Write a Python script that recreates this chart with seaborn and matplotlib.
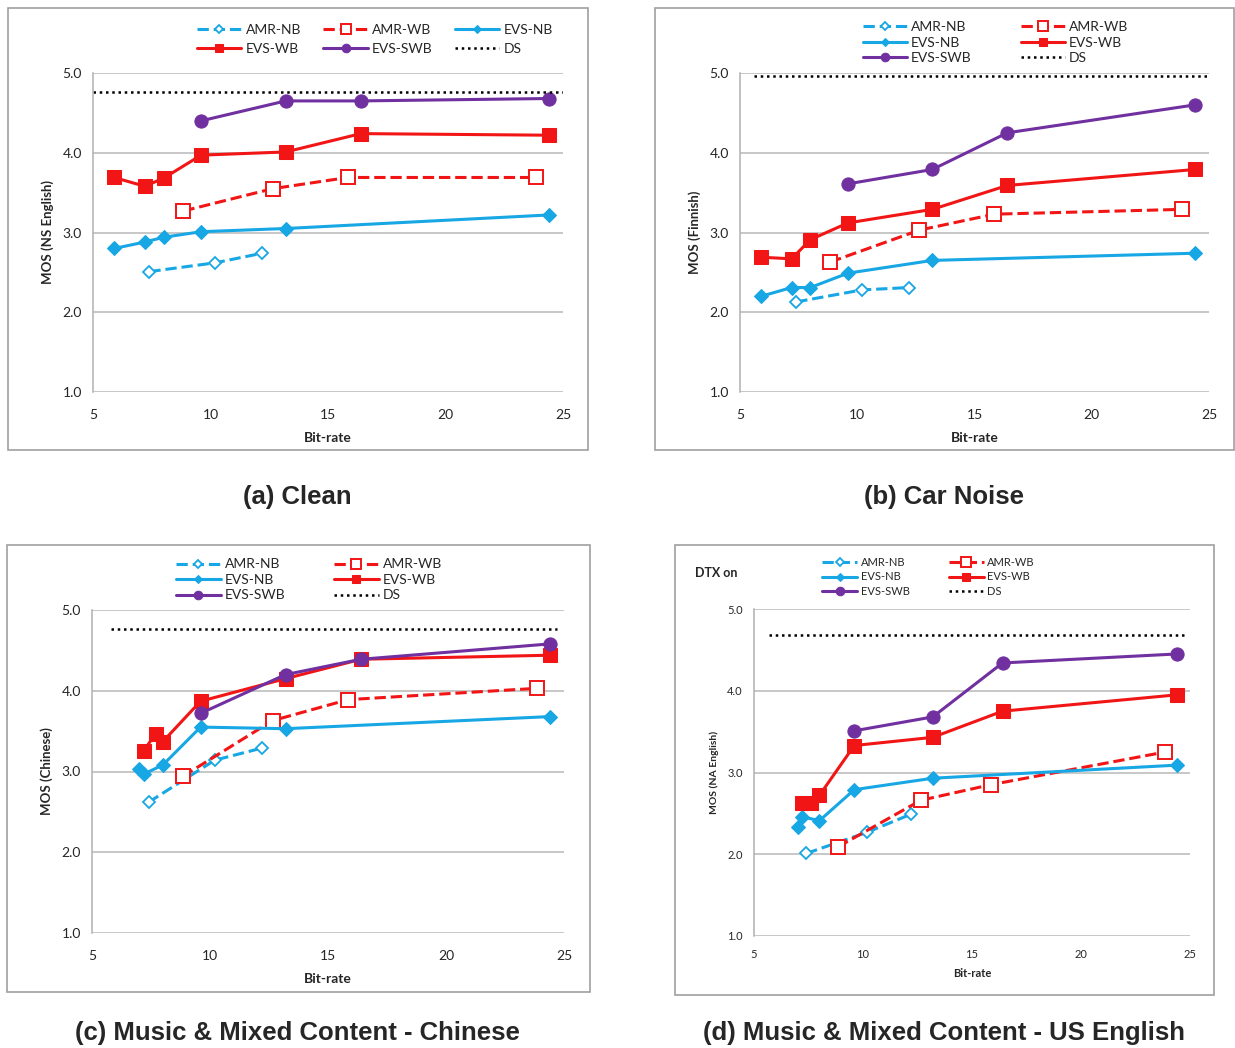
import matplotlib
matplotlib.use("Agg")
import matplotlib.pyplot as plt
import seaborn as sns
from matplotlib.patches import Rectangle
from matplotlib.ticker import FormatStrFormatter

# Bit-rates (kbps)
amr_nb_rate = [7.4, 10.2, 12.2]
amr_wb_rate = [8.85, 12.65, 15.85, 23.85]
evs_nb_rate = [5.9, 7.2, 8.0, 9.6, 13.2, 24.4]
evs_wb_rate = [5.9, 7.2, 8.0, 9.6, 13.2, 16.4, 24.4]
evs_swb_rate = [9.6, 13.2, 16.4, 24.4]
evs_nb_rate_c = [7.0, 7.2, 8.0, 9.6, 13.2, 24.4]
evs_wb_rate_c = [7.2, 7.7, 8.0, 9.6, 13.2, 16.4, 24.4]
evs_nb_rate_d = [7.0, 7.2, 8.0, 9.6, 13.2, 24.4]
evs_wb_rate_d = [7.2, 7.6, 8.0, 9.6, 13.2, 16.4, 24.4]

# (a) Clean
a_amr_nb = [2.51, 2.62, 2.74]
a_amr_wb = [3.27, 3.55, 3.69, 3.69]
a_evs_nb = [2.80, 2.88, 2.94, 3.01, 3.05, 3.22]
a_evs_wb = [3.69, 3.58, 3.68, 3.97, 4.01, 4.24, 4.22]
a_evs_swb = [4.40, 4.65, 4.65, 4.68]
a_ds = 4.76

# (b) Car Noise
b_amr_nb = [2.13, 2.28, 2.31]
b_amr_wb = [2.63, 3.03, 3.23, 3.29]
b_evs_nb = [2.20, 2.31, 2.31, 2.49, 2.65, 2.74]
b_evs_wb = [2.69, 2.67, 2.91, 3.12, 3.29, 3.59, 3.79]
b_evs_swb = [3.61, 3.79, 4.25, 4.60]
b_ds = 4.96

# (c) Music & Mixed - Chinese
c_amr_nb = [2.62, 3.14, 3.29]
c_amr_wb = [2.94, 3.63, 3.89, 4.03]
c_evs_nb = [3.03, 2.97, 3.08, 3.55, 3.53, 3.68]
c_evs_wb = [3.26, 3.47, 3.37, 3.87, 4.15, 4.39, 4.44]
c_evs_swb = [3.72, 4.20, 4.39, 4.58]
c_ds = 4.76

# (d) Music & Mixed - US English
d_amr_nb = [2.01, 2.27, 2.49]
d_amr_wb = [2.09, 2.66, 2.85, 3.25]
d_evs_nb = [2.33, 2.46, 2.41, 2.79, 2.93, 3.09]
d_evs_wb = [2.63, 2.63, 2.72, 3.33, 3.43, 3.75, 3.95]
d_evs_swb = [3.51, 3.68, 4.34, 4.45]
d_ds = 4.68

ds_span = {"a": [5.0, 25.0], "b": [5.6, 25.0], "c": [5.8, 24.7], "d": [5.7, 24.8]}

CYAN = "#17a7e4"
RED = "#f21515"
PURPLE = "#7030a0"

sns.set_style("white")
plt.rcParams["font.family"] = ["Lato", "DejaVu Sans"]

W, H = 1235, 1048
fig = plt.figure(figsize=(W / 100, H / 100), dpi=100)


def fx(px):
    return px / W


def fy(py):
    return 1 - py / H


def draw_panel(rect, data, ds_y, ds_x, ylabel, fs, ncol, order, leg_anchor, colsp, lsp):
    ax = fig.add_axes(rect)
    amr_nb, amr_wb, evs_nb, evs_wb, evs_swb, rates = data
    styles = {
        "AMR-NB": dict(x=amr_nb_rate, y=amr_nb, color=CYAN, linestyle="--", marker="D",
                       markersize=6.5, markerfacecolor="white", markeredgecolor=CYAN,
                       markeredgewidth=1.3),
        "AMR-WB": dict(x=amr_wb_rate, y=amr_wb, color=RED, linestyle="--", marker="s",
                       markersize=10, markerfacecolor="white", markeredgecolor=RED,
                       markeredgewidth=1.4),
        "EVS-NB": dict(x=rates[0], y=evs_nb, color=CYAN, linestyle="-", marker="D",
                       markersize=7, markerfacecolor=CYAN, markeredgecolor=CYAN),
        "EVS-WB": dict(x=rates[1], y=evs_wb, color=RED, linestyle="-", marker="s",
                       markersize=9.5, markerfacecolor=RED, markeredgecolor=RED),
        "EVS-SWB": dict(x=evs_swb_rate, y=evs_swb, color=PURPLE, linestyle="-", marker="o",
                        markersize=9.5, markerfacecolor=PURPLE, markeredgecolor=PURPLE),
    }
    for name, kw in styles.items():
        sns.lineplot(ax=ax, label=name, linewidth=2.2, sort=True, estimator=None, **kw)
    sns.lineplot(x=ds_x, y=[ds_y, ds_y], ax=ax, color="black", linestyle=(0, (1, 1.5)),
                 linewidth=1.8, label="DS")

    ax.set_xlim(5, 25)
    ax.set_ylim(1, 5)
    ax.set_xticks([5, 10, 15, 20, 25])
    ax.set_yticks([1, 2, 3, 4, 5])
    ax.yaxis.set_major_formatter(FormatStrFormatter("%.1f"))
    ax.grid(axis="y", color="#b8b8b8", linewidth=1.1)
    ax.grid(axis="x", visible=False)
    for s in ["top", "right", "bottom"]:
        ax.spines[s].set_visible(False)
    ax.spines["left"].set_color("#b0b0b0")
    ax.spines["left"].set_linewidth(1.1)
    ax.tick_params(axis="y", length=5, color="#b8b8b8", labelsize=fs, pad=3)
    ax.tick_params(axis="x", length=0, labelsize=fs, pad=12 if fs > 9 else 9)
    ax.set_xlabel("Bit-rate", fontsize=fs, fontweight="bold", labelpad=8 if fs > 9 else 6)
    ax.set_ylabel(ylabel, fontsize=fs - 0.5, fontweight="bold", labelpad=6)

    handles, labels = ax.get_legend_handles_labels()
    hmap = dict(zip(labels, handles))
    ax.legend([hmap[k] for k in order], order, ncol=ncol, loc="center",
              bbox_to_anchor=leg_anchor, frameon=False, fontsize=fs,
              handlelength=3.2, markerscale=0.65, columnspacing=colsp,
              handletextpad=0.3, labelspacing=lsp, borderaxespad=0)
    return ax


order3 = ["AMR-NB", "EVS-WB", "AMR-WB", "EVS-SWB", "EVS-NB", "DS"]
order2 = ["AMR-NB", "EVS-NB", "EVS-SWB", "AMR-WB", "EVS-WB", "DS"]

# panel boxes
boxes = [(8, 8, 588, 450), (655, 8, 1234, 450), (7, 545, 590, 992), (675, 545, 1214, 995)]
for x0, y0, x1, y1 in boxes:
    fig.add_artist(Rectangle((fx(x0), fy(y1)), fx(x1 - x0), (y1 - y0) / H,
                             transform=fig.transFigure, fill=False,
                             edgecolor="#a0a0a0", linewidth=1.2))

draw_panel([fx(93), fy(392), fx(470), 319 / H],
           (a_amr_nb, a_amr_wb, a_evs_nb, a_evs_wb, a_evs_swb, (evs_nb_rate, evs_wb_rate)),
           a_ds, ds_span["a"], "MOS (NS English)", 10, 3, order3, (0.60, 1.105), 1.6, 0.55)
draw_panel([fx(740), fy(392), fx(469), 319 / H],
           (b_amr_nb, b_amr_wb, b_evs_nb, b_evs_wb, b_evs_swb, (evs_nb_rate, evs_wb_rate)),
           b_ds, ds_span["b"], "MOS (Finnish)", 10, 2, order2, (0.545, 1.095), 3.5, 0.25)
draw_panel([fx(92), fy(933), fx(472), 323 / H],
           (c_amr_nb, c_amr_wb, c_evs_nb, c_evs_wb, c_evs_swb, (evs_nb_rate_c, evs_wb_rate_c)),
           c_ds, ds_span["c"], "MOS (Chinese)", 10, 2, order2, (0.46, 1.093), 3.5, 0.25)
draw_panel([fx(754), fy(936), fx(436), 327 / H],
           (d_amr_nb, d_amr_wb, d_evs_nb, d_evs_wb, d_evs_swb, (evs_nb_rate_d, evs_wb_rate_d)),
           d_ds, ds_span["d"], "MOS (NA English)", 8, 2, order2, (0.40, 1.098), 3.5, 0.35)
fig.text(fx(695), fy(573), "DTX on", fontsize=9, fontweight="bold", va="center")

captions = [(297, 497, "(a) Clean"), (944, 497, "(b) Car Noise"),
            (297, 1033, "(c) Music & Mixed Content - Chinese"),
            (944, 1033, "(d) Music & Mixed Content - US English")]
for cx, cy, t in captions:
    fig.text(fx(cx), fy(cy), t, ha="center", va="center", fontsize=18.5,
             fontweight="bold", family=["Liberation Sans", "DejaVu Sans"])

fig.savefig("out.png", dpi=100)
